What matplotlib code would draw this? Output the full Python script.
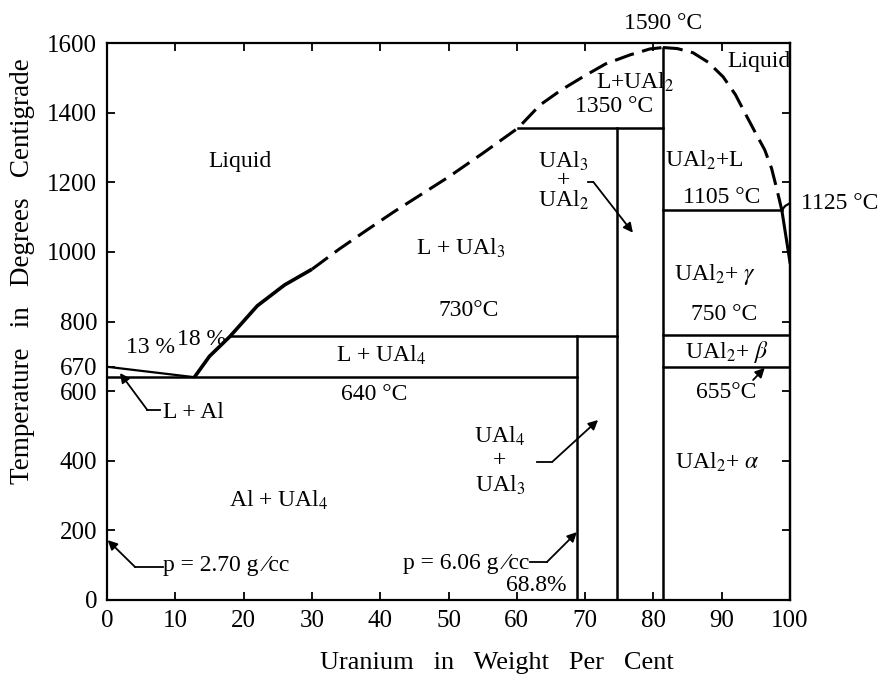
import matplotlib
matplotlib.use("Agg")
import matplotlib.pyplot as plt

plt.rcParams['font.family'] = ['Liberation Serif', 'DejaVu Serif']
plt.rcParams['mathtext.fontset'] = 'stix'

# phase boundaries (wt% U, deg C)
al_liquidus_x = [0, 12.8]
al_liquidus_t = [670, 640]
liq_solid_x = [12.8, 15, 18, 22, 26, 30]
liq_solid_t = [640, 700, 757, 845, 905, 950]
liq_dash_x = [30, 34, 38, 42, 46, 50, 55, 60.2, 63.4, 66.5, 69.7, 73, 76.6, 79.5, 81.4]
liq_dash_t = [950, 1008, 1062, 1115, 1165, 1215, 1283, 1356, 1422, 1465, 1503, 1540, 1566, 1583, 1587]
right_dash_x = [81.4, 83.5, 85.8, 88, 90.2, 92, 93.7, 95, 96.3, 97.3, 98.1, 98.8]
right_dash_t = [1587, 1584, 1572, 1545, 1503, 1452, 1388, 1340, 1293, 1240, 1178, 1120]
u_side_x = [98.8, 100]
u_side_t = [1120, 970]
u_cap_x = [98.8, 99.3, 100]
u_cap_t = [1120, 1132, 1140]

# horizontal invariants: (x start, x end, T)
horizontals = [(0, 68.8, 640), (18, 74.7, 757), (60.2, 81.4, 1356),
               (81.4, 98.8, 1120), (81.4, 100, 762), (81.4, 100, 670)]
# vertical compounds: (x, T top)
verticals = [(68.8, 757), (74.7, 1356), (81.4, 1587)]

# region labels: (text, x, T, ha)
labels = [
    ("Liquid", 19.4, 1259, "center"),
    (r"L + UAl$_3$", 51.8, 1011, "center"),
    ("730°C", 53, 833, "center"),
    ("13 %", 6.3, 724, "center"),
    ("18 %", 13.8, 747, "center"),
    (r"L + UAl$_4$", 40.2, 704, "center"),
    ("640 °C", 39.1, 589, "center"),
    ("L + Al", 8.2, 540, "left"),
    (r"Al + UAl$_4$", 25.1, 287, "center"),
    ("p = 2.70 g ⁄cc", 8.2, 100, "left"),
    ("p = 6.06 g ⁄cc", 61.9, 105, "right"),
    ("68.8%", 67.3, 43, "right"),
    (r"L+UAl$_2$", 77.4, 1488, "center"),
    ("1350 °C", 74.2, 1417, "center"),
    ("1590 °C", 81.4, 1657, "center"),
    ("Liquid", 95.5, 1546, "center"),
    (r"UAl$_2$+L", 87.4, 1264, "center"),
    ("1105 °C", 90.0, 1155, "center"),
    ("1125 °C", 107.3, 1140, "center"),
    (r"UAl$_2$+ $\gamma$", 89.0, 934, "center"),
    ("750 °C", 90.3, 819, "center"),
    (r"UAl$_2$+ $\beta$", 90.8, 713, "center"),
    ("655°C", 90.6, 595, "center"),
    (r"UAl$_2$+ $\alpha$", 89.3, 394, "center"),
]
stacked = [
    ("UAl$_4$\n+\nUAl$_3$", 57.5, 400, 1.15),
    ("UAl$_3$\n+\nUAl$_2$", 66.8, 1204, 0.85),
]

# leader arrows: tail points (bend) then tip
arrows = [
    ([7.8, 5.9], [546, 546], (1.9, 652)),
    ([8.2, 4.1], [95, 95], (0.1, 172)),
    ([61.9, 64.4], [109, 109], (68.8, 195)),
    ([63.0, 65.2], [397, 397], (71.9, 517)),
    ([70.4, 71.2], [1201, 1201], (77.0, 1055)),
    ([94.6], [632], (96.3, 667)),
]

x_ticks = list(range(0, 101, 10))
y_ticks = [0, 200, 400, 600, 670, 800, 1000, 1200, 1400, 1600]

fig = plt.figure(figsize=(8.83, 6.76), dpi=100)
ax = fig.add_axes([107 / 883, 1 - 600 / 676, 683 / 883, 557 / 676])
ax.set_xlim(0, 100)
ax.set_ylim(0, 1600)

lw = 1.8
dash = (0, (6.5, 2.8))
ax.plot(al_liquidus_x, al_liquidus_t, color='black', lw=1.6)
ax.plot(liq_solid_x, liq_solid_t, color='black', lw=2.6, solid_capstyle='butt')
ax.plot(liq_dash_x, liq_dash_t, color='black', lw=2.2, linestyle=dash)
ax.plot(right_dash_x, right_dash_t, color='black', lw=2.2, linestyle=dash)
ax.plot(u_side_x, u_side_t, color='black', lw=2.2)
ax.plot(u_cap_x, u_cap_t, color='black', lw=1.6)
for x0, x1, t in horizontals:
    ax.plot([x0, x1], [t, t], color='black', lw=lw)
for x, t in verticals:
    ax.plot([x, x], [0, t], color='black', lw=lw)

for txt, x, t, ha in labels:
    ax.text(x, t, txt, ha=ha, va='center', fontsize=17, clip_on=False)
for txt, x, t, ls in stacked:
    ax.text(x, t, txt, ha='center', va='center', fontsize=17, linespacing=ls)

for xs, ts, tip in arrows:
    ax.plot(xs, ts, color='black', lw=1.3)
    ax.annotate("", xy=tip, xytext=(xs[-1], ts[-1]),
                arrowprops=dict(arrowstyle='-|>', color='black', lw=1.3,
                                mutation_scale=14, shrinkA=0, shrinkB=0))

ax.set_xticks(x_ticks)
ax.set_yticks(y_ticks)
ax.tick_params(direction='in', length=6, width=1.3, top=True, labelsize=18, pad=7)
sec = ax.secondary_yaxis('right')
sec.set_yticks(range(0, 1601, 200))
sec.tick_params(direction='in', length=6, width=1.3, labelright=False)
for s in list(ax.spines.values()) + list(sec.spines.values()):
    s.set_linewidth(1.6)

ax.set_xlabel("Uranium   in   Weight   Per   Cent", fontsize=19, va='center')
ax.xaxis.set_label_coords(0.571, -0.113)
ax.set_ylabel("Temperature   in   Degrees   Centigrade", fontsize=19.5, va='center')
ax.yaxis.set_label_coords(-0.124, 0.59)

fig.savefig("out.png", dpi=100)
